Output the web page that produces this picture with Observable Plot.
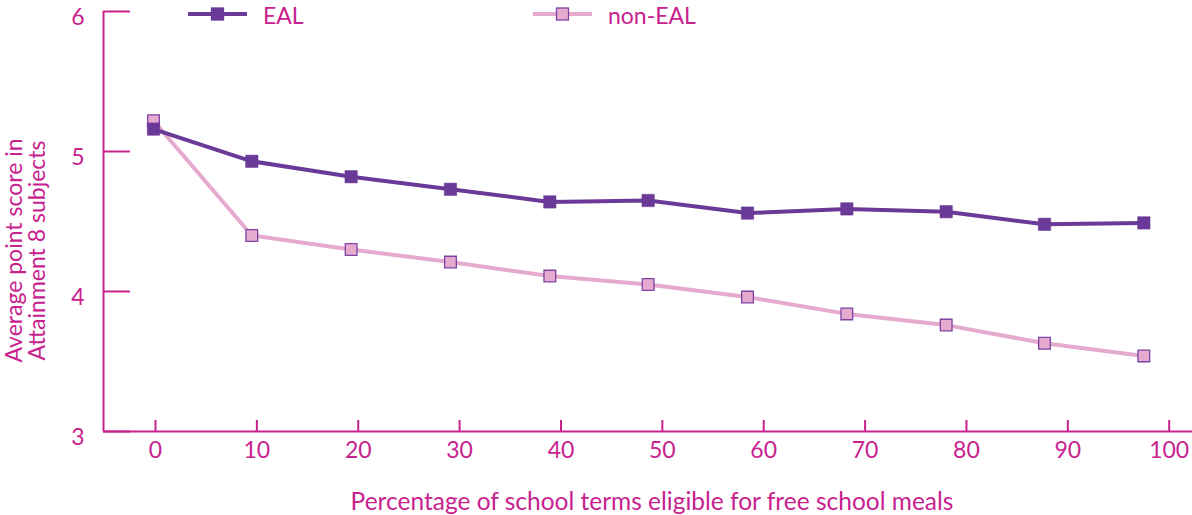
<!DOCTYPE html>
<html>
<head>
<meta charset="utf-8">
<script src="https://cdn.jsdelivr.net/npm/d3@7"></script>
<script src="https://cdn.jsdelivr.net/npm/@observablehq/plot@0.6"></script>
<style>
  html, body { margin: 0; padding: 0; background: #fff; }
  #wrap { position: relative; width: 1192px; height: 515px; }
  #legend { position: absolute; left: 0; top: 0; width: 1192px; height: 30px; font-family: Lato, "Open Sans", sans-serif; font-size: 23px; color: #c8228f; }
  .item { position: absolute; top: 0; height: 30px; display: flex; align-items: center; }
  .item svg { display: block; }
  .item span { margin-left: 16px; line-height: 30px; }
</style>
</head>
<body>
<div id="wrap">
  <div id="chart"></div>
  <div id="legend"></div>
</div>
<script>
// ---- data ----
const xValues = [-0.2, 9.5, 19.3, 29.1, 38.9, 48.6, 58.4, 68.2, 78.0, 87.7, 97.5];
const ealScores = [5.16, 4.93, 4.82, 4.73, 4.64, 4.65, 4.56, 4.59, 4.57, 4.48, 4.49];
const nonEalScores = [5.22, 4.40, 4.30, 4.21, 4.11, 4.05, 3.96, 3.84, 3.76, 3.63, 3.54];
const xTicks = [0, 10, 20, 30, 40, 50, 60, 70, 80, 90, 100];
const yTicks = [3, 4, 5, 6];
const seriesNames = ["EAL", "non-EAL"];
const xLabel = "Percentage of school terms eligible for free school meals";
const yLabel = "Average point score in\nAttainment 8 subjects";

// ---- styles ----
const MAG = "#c8228f";
const EAL_COLOR = "#6b3a98";
const NON_FILL = "#e6aacf";
const NON_STROKE = "#7d44a3";
const FONT = "Lato, 'Open Sans', sans-serif";

const eal = xValues.map((x, i) => ({x, y: ealScores[i]}));
const nonEal = xValues.map((x, i) => ({x, y: nonEalScores[i]}));

const chart = Plot.plot({
  width: 1192,
  height: 515,
  marginLeft: 103,
  marginRight: 0,
  marginTop: 11,
  marginBottom: 84,
  x: {domain: [-5.13, 102.3]},
  y: {domain: [3, 6]},
  style: {fontFamily: FONT, fontSize: "23px", color: MAG, background: "#fff", overflow: "visible"},
  marks: [
    Plot.ruleY([3], {stroke: MAG, strokeWidth: 2}),
    Plot.ruleX([-5.13], {stroke: MAG, strokeWidth: 2}),
    Plot.axisX({ticks: xTicks, tickSize: -11, tickPadding: 21, stroke: MAG, fill: MAG, strokeWidth: 2, fontSize: 23, label: null}),
    Plot.axisY({ticks: yTicks, tickSize: -27, tickFormat: () => "", stroke: MAG, strokeWidth: 2, label: null}),
    Plot.axisY({ticks: yTicks, tickSize: 0, tickPadding: 19, dy: 6, fill: MAG, fontSize: 23, tickFormat: d3.format("d"), label: null}),
    Plot.text([xLabel], {frameAnchor: "bottom", lineAnchor: "middle", textAnchor: "middle", dx: 4, dy: 71, fill: MAG, fontSize: 24.5}),
    Plot.text([yLabel], {frameAnchor: "left", lineAnchor: "middle", textAnchor: "middle", rotate: -90, dx: -77, dy: 29, fill: MAG, fontSize: 23}),
    Plot.line(nonEal, {x: "x", y: "y", stroke: NON_FILL, strokeWidth: 4}),
    Plot.dot(nonEal, {x: "x", y: "y", symbol: "square", r: 6.6, fill: NON_FILL, stroke: NON_STROKE, strokeWidth: 1.3}),
    Plot.line(eal, {x: "x", y: "y", stroke: EAL_COLOR, strokeWidth: 4}),
    Plot.dot(eal, {x: "x", y: "y", symbol: "square", r: 7, fill: EAL_COLOR, stroke: EAL_COLOR, strokeWidth: 0.5})
  ]
});
document.getElementById("chart").appendChild(chart);

// ---- legend ----
const legend = document.getElementById("legend");
const legendItems = [
  {name: seriesNames[0], line: EAL_COLOR, fill: EAL_COLOR, stroke: EAL_COLOR, left: 188},
  {name: seriesNames[1], line: NON_FILL, fill: NON_FILL, stroke: NON_STROKE, left: 533}
];
for (const it of legendItems) {
  const d = document.createElement("div");
  d.className = "item";
  d.style.left = it.left + "px";
  d.innerHTML = `<svg width="59" height="30"><line x1="0" x2="59" y1="14" y2="14" stroke="${it.line}" stroke-width="4"/><rect x="23.5" y="8" width="12" height="12" fill="${it.fill}" stroke="${it.stroke}" stroke-width="1.3"/></svg><span>${it.name}</span>`;
  legend.appendChild(d);
}
</script>
</body>
</html>
